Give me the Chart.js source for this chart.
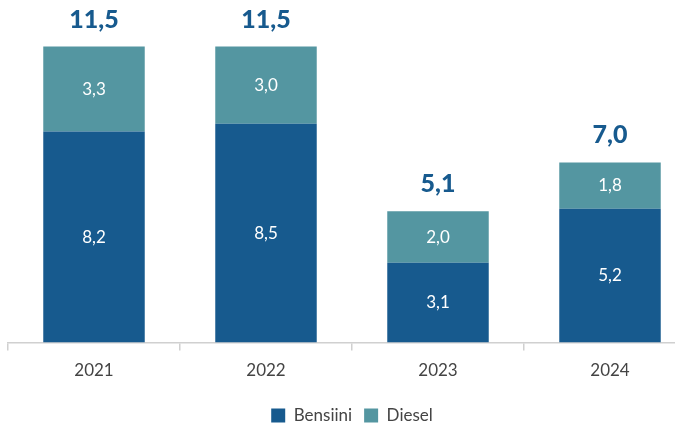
<!DOCTYPE html>
<html lang="fi">
<head>
  <meta charset="UTF-8">
  <title>Bensiini ja Diesel</title>
  <script src="https://cdn.jsdelivr.net/npm/chart.js"></script>
  <style>
    body {
      margin: 0;
      overflow: hidden;
      background: #fff;
    }
    #wrap {
      width: 700px;
      height: 428px;
    }
  </style>
</head>
<body>
  <div id="wrap">
    <canvas id="fuelChart" width="700" height="428"></canvas>
  </div>

  <script>
    // Vuodet ja sarjat
    const years = ['2021', '2022', '2023', '2024'];
    const bensiini = [8.2, 8.5, 3.1, 5.2];
    const diesel = [3.3, 3.0, 2.0, 1.8];

    const blue = '#175a8e';
    const teal = '#5496a1';
    const fontFamily = 'Lato, "Noto Sans", sans-serif';

    const fmt = v => v.toFixed(1).replace('.', ',');

    // Arvot palkkien sisään ja summat palkkien päälle
    const labelPlugin = {
      id: 'barLabels',
      afterDatasetsDraw(chart) {
        const c = chart.ctx;
        c.save();
        c.textAlign = 'center';
        c.textBaseline = 'middle';
        c.fillStyle = '#fff';
        c.font = '17px ' + fontFamily;
        chart.data.datasets.forEach((ds, i) => {
          chart.getDatasetMeta(i).data.forEach((bar, j) => {
            const mid = (bar.y + bar.base) / 2;
            c.fillText(fmt(ds.data[j]), bar.x, mid);
          });
        });
        const top = chart.getDatasetMeta(1).data;
        c.fillStyle = blue;
        c.font = '900 25px ' + fontFamily;
        years.forEach((y, j) => {
          const total = bensiini[j] + diesel[j];
          c.fillText(fmt(total), top[j].x, top[j].y - 27);
        });
        c.restore();
      }
    };

    new Chart(document.getElementById('fuelChart'), {
      type: 'bar',
      data: {
        labels: years,
        datasets: [
          { label: 'Bensiini', data: bensiini, backgroundColor: blue },
          { label: 'Diesel', data: diesel, backgroundColor: teal }
        ]
      },
      options: {
        responsive: false,
        animation: false,
        layout: { padding: { left: 8, right: 4, top: 8, bottom: -6 } },
        datasets: {
          bar: { barPercentage: 0.59, categoryPercentage: 1 }
        },
        scales: {
          x: {
            stacked: true,
            border: { color: '#d0d0d0', width: 1.5 },
            grid: {
              drawOnChartArea: false,
              tickLength: 8,
              color: '#d0d0d0',
              lineWidth: 1.5
            },
            ticks: {
              color: '#444',
              padding: 10,
              font: { family: fontFamily, size: 17 }
            },
            afterFit(scale) {
              scale.height += 4;
            }
          },
          y: {
            stacked: true,
            display: false,
            min: 0,
            max: 13
          }
        },
        plugins: {
          tooltip: { enabled: false },
          legend: {
            position: 'bottom',
            align: 'center',
            labels: {
              boxWidth: 14,
              boxHeight: 14,
              padding: 12,
              color: '#444',
              font: { family: fontFamily, size: 17 }
            }
          }
        }
      },
      plugins: [labelPlugin]
    });
  </script>
</body>
</html>
